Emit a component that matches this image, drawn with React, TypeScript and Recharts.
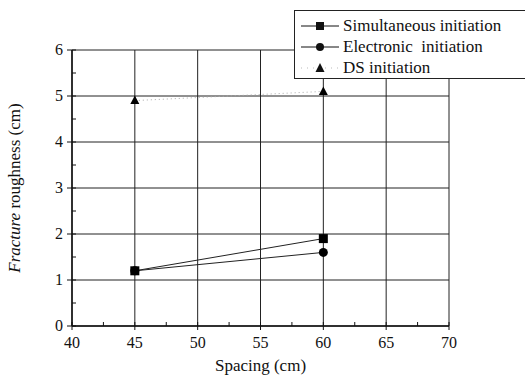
import { LineChart, Line, XAxis, YAxis, CartesianGrid } from 'recharts'

const spacing = [45, 60]
const simultaneous = [1.2, 1.9]
const electronic = [1.2, 1.6]
const dsInit = [4.9, 5.1]

const xTicks = [40, 42.5, 45, 47.5, 50, 52.5, 55, 57.5, 60, 62.5, 65, 67.5, 70]
const yTicks = [0, 0.5, 1, 1.5, 2, 2.5, 3, 3.5, 4, 4.5, 5, 5.5, 6]
const xGrid = [40, 45, 50, 55, 60, 65, 70]
const yGrid = [0, 1, 2, 3, 4, 5, 6]

const toRows = (ys: number[]) => spacing.map((x, i) => ({ x, y: ys[i] }))

const FONT = '"Liberation Serif", "Times New Roman", serif'

const Square = (props: any) => {
  const { cx, cy } = props
  if (cx == null) return null
  return <rect x={cx - 4.5} y={cy - 4.5} width={9} height={9} fill="#000" />
}
const Dot = (props: any) => {
  const { cx, cy } = props
  if (cx == null) return null
  return <circle cx={cx} cy={cy} r={4.5} fill="#000" />
}
const Tri = (props: any) => {
  const { cx, cy } = props
  if (cx == null) return null
  return <polygon points={`${cx},${cy - 5} ${cx - 4.5},${cy + 3.5} ${cx + 4.5},${cy + 3.5}`} fill="#000" />
}

// tickSize/tickMargin are 0, so x,y sit on the axis line
const XTick = (props: any) => {
  const { x, y, payload } = props
  const major = payload.value % 5 === 0
  return (
    <g>
      <line x1={x} y1={y - 4} x2={x} y2={major ? y + 4 : y} stroke="#111" />
      {major && (
        <text x={x} y={y + 22} textAnchor="middle" fontSize={16} fontFamily={FONT} fill="#111">
          {payload.value}
        </text>
      )}
    </g>
  )
}
const YTick = (props: any) => {
  const { x, y, payload } = props
  const major = payload.value % 1 === 0
  return (
    <g>
      <line x1={major ? x - 5 : x} y1={y} x2={x + 4} y2={y} stroke="#111" />
      {major && (
        <text x={x - 9} y={y + 5} textAnchor="end" fontSize={16} fontFamily={FONT} fill="#111">
          {payload.value}
        </text>
      )}
    </g>
  )
}

const YLabel = (props: any) => {
  const vb = props.viewBox || {}
  const cx = 14
  const cy = vb.y + vb.height / 2
  return (
    <text x={cx} y={cy} transform={`rotate(-90 ${cx} ${cy})`} textAnchor="middle" dominantBaseline="central" fontSize={17} fontFamily={FONT} fill="#111">
      <tspan fontStyle="italic">Fracture</tspan>
      <tspan> roughness (cm)</tspan>
    </text>
  )
}

const legendItems = [
  { label: 'Simultaneous initiation', shape: 'square', line: true },
  { label: 'Electronic  initiation', shape: 'circle', line: true },
  { label: 'DS initiation', shape: 'tri', line: false },
]

const LegendBox = () => (
  <div
    style={{
      position: 'absolute', left: 294, top: 10,
      width: 232, height: 69, background: '#fff', border: '1px solid #222', borderRight: 'none',
      boxSizing: 'border-box', paddingTop: 4, fontFamily: FONT, fontSize: 17, color: '#111',
    }}
  >
    {legendItems.map((it) => (
      <div key={it.label} style={{ display: 'flex', alignItems: 'center', height: 21 }}>
        <svg width={44} height={14} style={{ marginLeft: 4 }}>
          <line x1={2} y1={7} x2={40} y2={7} stroke={it.line ? '#111' : '#bbb'} strokeWidth={1} strokeDasharray={it.line ? undefined : '1 5'} />
          {it.shape === 'square' && <rect x={17} y={3} width={8} height={8} fill="#111" />}
          {it.shape === 'circle' && <circle cx={21} cy={7} r={4} fill="#111" />}
          {it.shape === 'tri' && <polygon points="21,2 16.5,11 25.5,11" fill="#111" />}
        </svg>
        <span style={{ marginLeft: 0, whiteSpace: 'pre' }}>{it.label}</span>
      </div>
    ))}
  </div>
)

export default function App() {
  return (
    <div style={{ position: 'absolute', left: 0, top: 0, width: 525, height: 376, background: '#fff' }}>
      <LineChart width={525} height={376} margin={{ top: 50, right: 76, left: 0, bottom: 0 }}>
        <CartesianGrid stroke="#222" strokeWidth={1} horizontalValues={yGrid} verticalValues={xGrid} />
        <XAxis
          type="number" dataKey="x" domain={[40, 70]} ticks={xTicks} interval={0}
          axisLine={{ stroke: '#111', strokeWidth: 1.5 }} tickLine={false} tickSize={0} tickMargin={0}
          tick={<XTick />} height={50}
          label={{ value: 'Spacing (cm)', position: 'insideBottom', offset: 5, fontSize: 17, fontFamily: FONT, fill: '#111' }}
        />
        <YAxis
          type="number" domain={[0, 6]} ticks={yTicks} interval={0}
          axisLine={{ stroke: '#111', strokeWidth: 1.5 }} tickLine={false} tickSize={0} tickMargin={0}
          tick={<YTick />} width={72}
          label={<YLabel />}
        />
        <Line data={toRows(simultaneous)} dataKey="y" name="Simultaneous initiation" stroke="#222" strokeWidth={1} dot={<Square />} isAnimationActive={false} />
        <Line data={toRows(electronic)} dataKey="y" name="Electronic  initiation" stroke="#222" strokeWidth={1} dot={<Dot />} isAnimationActive={false} />
        <Line data={toRows(dsInit)} dataKey="y" name="DS initiation" stroke="#aaa" strokeWidth={1} strokeDasharray="1 3" dot={<Tri />} isAnimationActive={false} />
      </LineChart>
      <LegendBox />
    </div>
  )
}
